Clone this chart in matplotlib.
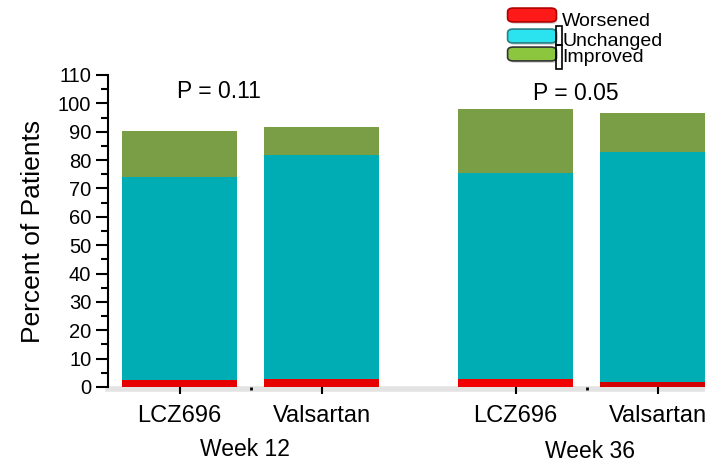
import matplotlib
matplotlib.use("Agg")
import matplotlib.pyplot as plt
from matplotlib.patches import FancyBboxPatch, Rectangle
from matplotlib.ticker import MultipleLocator, FixedLocator
import numpy as np

plt.rcParams['font.family'] = ['Liberation Sans', 'DejaVu Sans']

# stacked percentages per arm (LCZ696 / Valsartan at week 12 and week 36)
arms = ['LCZ696', 'Valsartan', 'LCZ696', 'Valsartan']
weeks = ['Week 12', 'Week 36']
p_values = ['P = 0.11', 'P = 0.05']
worsened = [2.5, 2.8, 2.8, 1.8]
unchanged = [71.7, 79.0, 72.6, 81.2]
improved = [16.1, 9.9, 22.6, 13.6]

xpos = np.array([0.0, 1.0, 2.366, 3.366])
bar_w = 0.81

c_red = ['#e60000', '#e60000', '#f20000', '#d40000']
c_teal = '#00adb5'
c_green = '#7a9e45'

fig = plt.figure(figsize=(7.05, 4.62), dpi=100)
ax = fig.add_axes([108 / 705, 75 / 462, 597 / 705, 312 / 462])

w = np.array(worsened)
u = np.array(unchanged)
im = np.array(improved)
ax.bar(xpos, w, bar_w, color=c_red, zorder=3)
ax.bar(xpos, u, bar_w, bottom=w, color=c_teal, zorder=3)
ax.bar(xpos, im, bar_w, bottom=w + u, color=c_green, zorder=3)

ax.set_xlim(-0.504, 3.70)
ax.set_ylim(0, 110)

for s in ['top', 'right', 'bottom']:
    ax.spines[s].set_visible(False)
ax.spines['left'].set_linewidth(1.5)

# soft shadow along the baseline
ax.axhline(-0.6, xmin=0.0, xmax=1.0, color='#d8d8d8', lw=4, alpha=0.7,
           clip_on=False, zorder=1)

ax.yaxis.set_major_locator(MultipleLocator(10))
ax.yaxis.set_minor_locator(MultipleLocator(5))
ax.tick_params(axis='y', which='major', length=9, width=1.5, pad=3,
               labelsize=14.5)
ax.tick_params(axis='y', which='minor', length=5, width=1.5)

ax.set_xticks(xpos)
ax.set_xticklabels(arms, fontsize=17)
ax.xaxis.set_minor_locator(FixedLocator([0.5, 2.866]))
ax.tick_params(axis='x', which='major', length=5, width=1.5, pad=8)
ax.tick_params(axis='x', which='minor', length=2, width=2)

ax.set_ylabel('Percent of Patients', fontsize=19, labelpad=9)

# group captions and p-values
fig.text(245 / 705, 1 - 449 / 462, weeks[0], fontsize=16.5,
         ha='center', va='center')
fig.text(590 / 705, 1 - 452 / 462, weeks[1], fontsize=16.5,
         ha='center', va='center')
fig.text(219 / 705, 1 - 91 / 462, p_values[0], fontsize=16.5,
         ha='center', va='center')
fig.text(576 / 705, 1 - 93 / 462, p_values[1], fontsize=16.5,
         ha='center', va='center')

# legend drawn by hand in pixel coordinates
H = 462.0
leg_items = [('Worsened', '#ff1a1a', '#b00000', 8, 21),
             ('Unchanged', '#2ae3ee', '#2a7f85', 29, 41),
             ('Improved', '#8cc63f', '#333333', 47, 58)]
for label, fc, ec, ytop, yc in leg_items:
    shadow = FancyBboxPatch((511 / 705, 1 - (ytop + 15) / H), 45 / 705, 12 / H,
                            boxstyle='round,pad=0.002,rounding_size=0.008',
                            transform=fig.transFigure, fc='#bbbbbb', ec='none',
                            alpha=0.6)
    fig.patches.append(shadow)
    p = FancyBboxPatch((509 / 705, 1 - (ytop + 13) / H), 46 / 705, 12 / H,
                       boxstyle='round,pad=0.002,rounding_size=0.008',
                       transform=fig.transFigure, fc=fc, ec=ec, lw=1.2)
    fig.patches.append(p)
    fig.text(562 / 705, 1 - yc / H, label, fontsize=14, ha='left',
             va='center')

for y0, y1 in [(26, 45), (45, 69)]:
    fig.patches.append(Rectangle((556 / 705, 1 - y1 / H), 6 / 705,
                                 (y1 - y0) / H, transform=fig.transFigure,
                                 fc='none', ec='black', lw=1.2))

fig.savefig('out.png', dpi=100)
